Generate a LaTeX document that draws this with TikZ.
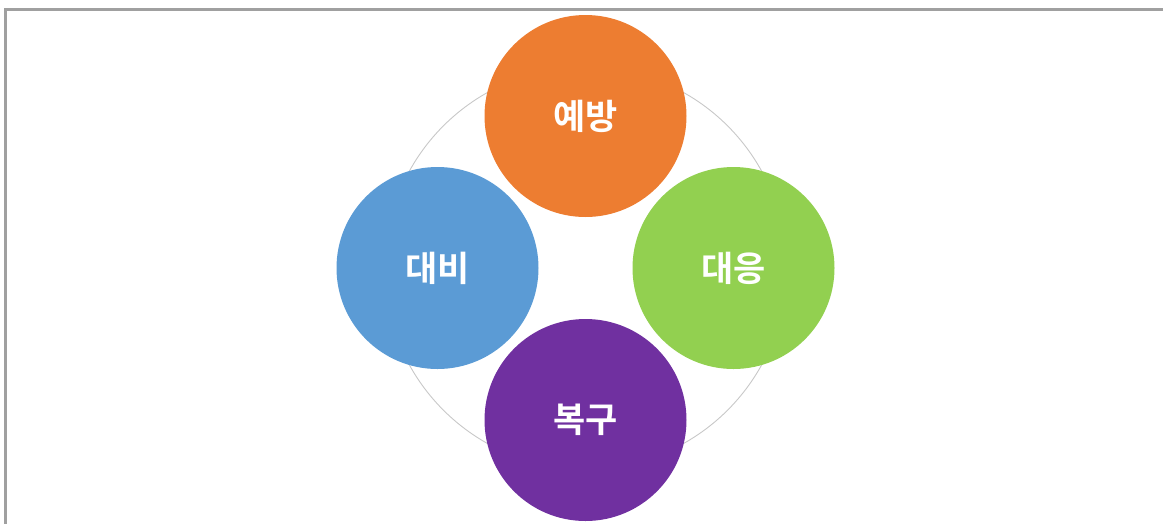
\documentclass[tikz,border=0pt]{standalone}
\usepackage{fontspec}
\newfontfamily\kr{Noto Sans CJK KR Bold}
\definecolor{cOrange}{HTML}{ED7D31}
\definecolor{cBlue}{HTML}{5B9BD5}
\definecolor{cGreen}{HTML}{92D050}
\definecolor{cPurple}{HTML}{7030A0}
\definecolor{cRing}{HTML}{C8C8C8}
\definecolor{cFrame}{HTML}{A0A0A0}
\tikzset{
  petal/.style={circle, minimum size=202pt, inner sep=0pt, text=white,
    font=\kr\fontsize{35}{35}\selectfont},
  ringline/.style={draw=cRing, line width=0.9pt},
  frameline/.style={draw=cFrame, line width=3pt}
}
\begin{document}
\begin{tikzpicture}[x=1pt,y=-1pt]
\useasboundingbox (0,0) rectangle (1163,523);
\begin{scope}
\clip (0,0) rectangle (1163,523);
\draw[frameline] (5.5,9.5) rectangle (1164,540);
\end{scope}
\coordinate (ctr) at (585.5,268);
\draw[ringline] (ctr) circle (201);
\node[petal, fill=cOrange] (top) at (585.5,116) {예방};
\node[petal, fill=cBlue] (left) at (437.5,268) {대비};
\node[petal, fill=cGreen] (right) at (733.5,268) {대응};
\node[petal, fill=cPurple] (bottom) at (585.5,420) {복구};
\end{tikzpicture}
\end{document}
